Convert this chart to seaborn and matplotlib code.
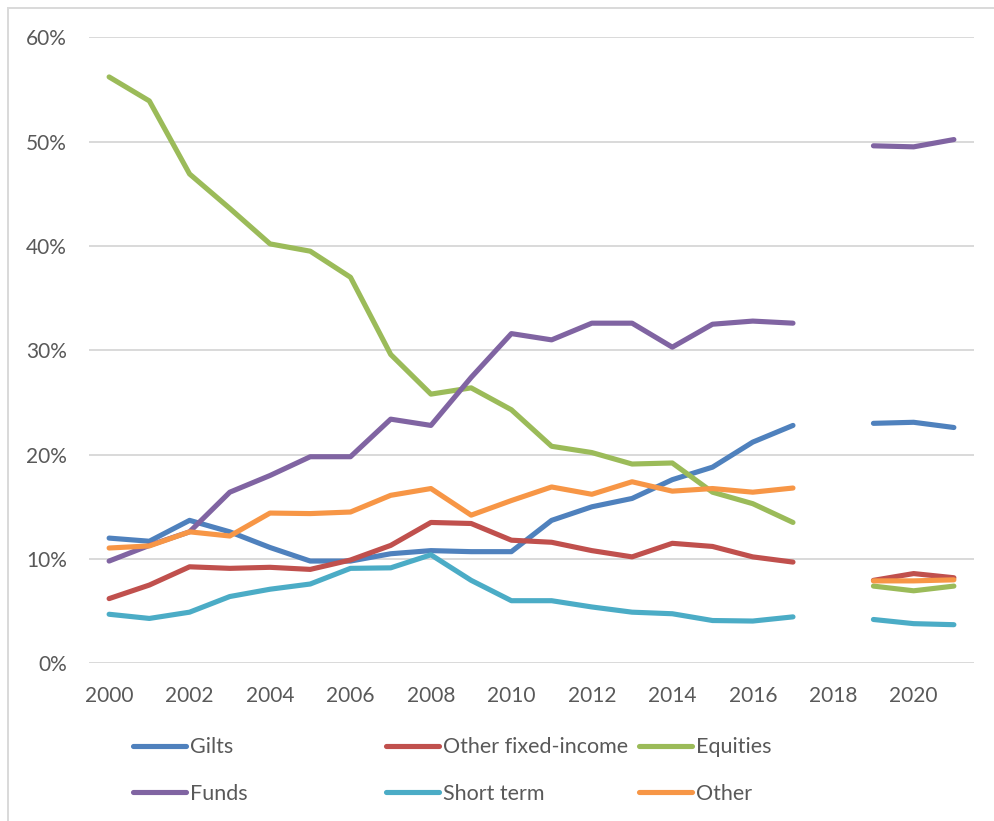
import numpy as np
import pandas as pd
import matplotlib
matplotlib.use("Agg")
import matplotlib.pyplot as plt
from matplotlib.lines import Line2D
from matplotlib.patches import Rectangle
import seaborn as sns

years = [2000, 2001, 2002, 2003, 2004, 2005, 2006, 2007, 2008, 2009, 2010,
         2011, 2012, 2013, 2014, 2015, 2016, 2017, 2018, 2019, 2020, 2021]
nan = np.nan
gilts = [12.0, 11.7, 13.7, 12.6, 11.1, 9.8, 9.8, 10.5, 10.8, 10.7, 10.7,
         13.7, 15.0, 15.8, 17.6, 18.8, 21.2, 22.8, nan, 23.0, 23.1, 22.6]
other_fixed = [6.2, 7.5, 9.25, 9.1, 9.2, 9.0, 9.9, 11.3, 13.5, 13.4, 11.8,
               11.6, 10.8, 10.2, 11.5, 11.2, 10.2, 9.7, nan, 7.95, 8.6, 8.2]
equities = [56.2, 53.9, 46.9, 43.6, 40.2, 39.5, 37.0, 29.6, 25.8, 26.4, 24.3,
            20.8, 20.2, 19.1, 19.2, 16.4, 15.3, 13.5, nan, 7.4, 6.95, 7.4]
funds = [9.8, 11.3, 12.6, 16.4, 18.0, 19.8, 19.8, 23.4, 22.8, 27.4, 31.6,
         31.0, 32.6, 32.6, 30.3, 32.5, 32.8, 32.6, nan, 49.6, 49.5, 50.2]
short_term = [4.7, 4.3, 4.9, 6.4, 7.1, 7.6, 9.1, 9.15, 10.4, 7.95, 6.0,
              6.0, 5.4, 4.9, 4.75, 4.1, 4.05, 4.45, nan, 4.2, 3.8, 3.7]
other = [11.05, 11.25, 12.6, 12.2, 14.4, 14.35, 14.5, 16.1, 16.75, 14.2, 15.6,
         16.9, 16.2, 17.4, 16.5, 16.75, 16.4, 16.8, nan, 7.9, 7.9, 8.0]

series_names = ["Gilts", "Other fixed-income", "Equities", "Funds", "Short term", "Other"]
series_values = [gilts, other_fixed, equities, funds, short_term, other]
colors = ["#4F81BD", "#C0504D", "#9BBB59", "#8064A2", "#4BACC6", "#F79646"]
x_tick_labels = [str(y) for y in range(2000, 2021, 2)]
y_ticks = [0, 10, 20, 30, 40, 50, 60]

rows = []
for name, vals in zip(series_names, series_values):
    for yr, v in zip(years, vals):
        rows.append({"year": yr, "value": v, "series": name,
                     "segment": 0 if yr < 2018 else 1})
df = pd.DataFrame(rows).dropna()

sns.set_theme(style="white")
plt.rcParams["font.family"] = ["Lato", "DejaVu Sans"]
text_color = "#595959"
fs = 15
lfs = 15.5

fig = plt.figure(figsize=(9.94, 8.21), dpi=100)
ax = fig.add_axes([89 / 994, 1 - 663.3 / 821, (974 - 89) / 994, (663.3 - 37.3) / 821])

palette = dict(zip(series_names, colors))
sns.lineplot(data=df, x="year", y="value", hue="series", units="segment",
             estimator=None, palette=palette, hue_order=series_names,
             linewidth=3.7, legend=False, ax=ax, sort=True)
for ln in ax.get_lines():
    ln.set_solid_capstyle("round")
    ln.set_solid_joinstyle("round")

ax.set_xlim(1999.5, 2021.5)
ax.set_ylim(0, 60)
ax.set_xticks([int(t) for t in x_tick_labels])
ax.set_xticklabels(x_tick_labels)
ax.set_yticks(y_ticks)
ax.set_yticklabels([f"{t}%" for t in y_ticks])
ax.set_xlabel("")
ax.set_ylabel("")
ax.tick_params(axis="both", length=0, labelsize=fs, labelcolor=text_color)
ax.tick_params(axis="y", pad=16)
ax.tick_params(axis="x", pad=16)
for s in ax.spines.values():
    s.set_visible(False)
ax.grid(axis="y", color="#d9d9d9", linewidth=1.4)
ax.grid(axis="x", visible=False)
ax.set_axisbelow(True)

# legends: three columns
col_x = [133 / 994, 386 / 994, 639 / 994]
cols = [[0, 3], [1, 4], [2, 5]]
for cx, idxs in zip(col_x, cols):
    handles = [Line2D([0], [0], color=colors[i], linewidth=3.7, solid_capstyle="round")
               for i in idxs]
    labels = [series_names[i] for i in idxs]
    leg = fig.legend(handles, labels, loc="center left",
                     bbox_to_anchor=(cx, 1 - 770.5 / 821), frameon=False,
                     fontsize=lfs, handlelength=2.45, handletextpad=0.22,
                     labelspacing=1.25, borderpad=0, borderaxespad=0)
    for t in leg.get_texts():
        t.set_color(text_color)

# chart area border
fig.add_artist(Rectangle((7.5 / 994, -0.1), 1.2, 1.1 - 8.3 / 821,
                         transform=fig.transFigure, fill=False,
                         edgecolor="#d9d9d9", linewidth=1.4))

fig.savefig("out.png", dpi=100)
